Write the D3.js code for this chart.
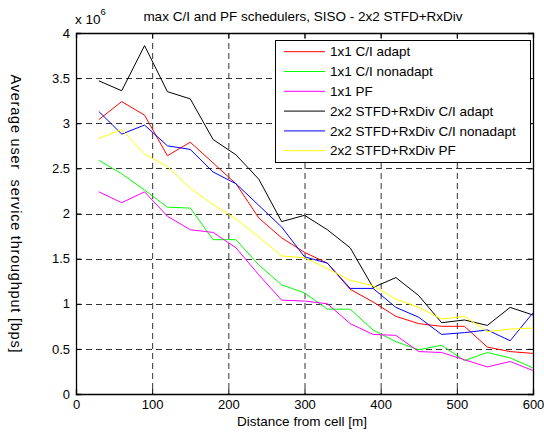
<!DOCTYPE html>
<html>
<head>
<meta charset="utf-8">
<script src="https://cdn.jsdelivr.net/npm/d3@7"></script>
<style>
  body { margin: 0; background: #fff; }
  text { font-family: "Liberation Sans", Arial, sans-serif; fill: #000; }
</style>
</head>
<body>
<div id="chart"></div>
<script>
// ---------- data (throughput in 1e6 bps) ----------
const distance = [30, 60, 90, 120, 150, 180, 210, 240, 270, 300, 330, 360, 390, 420, 450, 480, 510, 540, 570, 600];

const ci1x1Adapt    = [3.04, 3.24, 3.09, 2.64, 2.79, 2.56, 2.33, 1.95, 1.73, 1.57, 1.45, 1.16, 1.02, 0.86, 0.78, 0.75, 0.75, 0.52, 0.47, 0.45];
const ci1x1Nonadapt = [2.59, 2.44, 2.26, 2.07, 2.06, 1.71, 1.71, 1.43, 1.21, 1.12, 0.94, 0.94, 0.71, 0.58, 0.49, 0.54, 0.37, 0.46, 0.40, 0.29];
const pf1x1         = [2.24, 2.12, 2.24, 1.97, 1.82, 1.79, 1.62, 1.32, 1.04, 1.03, 1.00, 0.78, 0.66, 0.65, 0.47, 0.46, 0.38, 0.30, 0.36, 0.26];
const ci2x2Adapt    = [3.47, 3.36, 3.86, 3.35, 3.27, 2.82, 2.65, 2.38, 1.91, 1.98, 1.82, 1.62, 1.18, 1.29, 1.09, 0.79, 0.82, 0.76, 0.96, 0.875];
const ci2x2Nonadapt = [3.13, 2.88, 2.98, 2.75, 2.71, 2.46, 2.33, 2.09, 1.85, 1.52, 1.45, 1.17, 1.17, 0.96, 0.85, 0.66, 0.68, 0.71, 0.59, 0.90];
const pf2x2         = [2.83, 2.93, 2.66, 2.52, 2.28, 2.10, 1.94, 1.74, 1.53, 1.51, 1.39, 1.26, 1.20, 1.05, 0.96, 0.83, 0.86, 0.69, 0.72, 0.73];

const seriesNames = ["1x1 C/I adapt", "1x1 C/I nonadapt", "1x1 PF",
  "2x2 STFD+RxDiv C/I adapt", "2x2 STFD+RxDiv C/I nonadapt", "2x2 STFD+RxDiv PF"];
const seriesValues = [ci1x1Adapt, ci1x1Nonadapt, pf1x1, ci2x2Adapt, ci2x2Nonadapt, pf2x2];
const seriesColors = ["#ff0000", "#00ff00", "#ff00ff", "#000000", "#0000ff", "#ffff00"];

const xTicks = [0, 100, 200, 300, 400, 500, 600];
const yTicks = [0, 0.5, 1, 1.5, 2, 2.5, 3, 3.5, 4];

// ---------- layout ----------
const width = 544, height = 432;
const margin = { left: 76, right: 11, top: 33, bottom: 38 };
const plotW = width - margin.left - margin.right;
const plotH = height - margin.top - margin.bottom;
const labelFont = "13.5px";

const svg = d3.select("#chart").append("svg")
  .attr("width", width)
  .attr("height", height);

const x = d3.scaleLinear().domain([0, 600]).range([0, plotW]);
const y = d3.scaleLinear().domain([0, 4]).range([plotH, 0]);

const g = svg.append("g").attr("transform", `translate(${margin.left},${margin.top})`);

// grid (dashed)
g.append("g").selectAll("line")
  .data(xTicks.slice(1, -1))
  .enter().append("line")
  .attr("x1", d => x(d) + 0.5).attr("x2", d => x(d) + 0.5)
  .attr("y1", 0).attr("y2", plotH)
  .attr("stroke", "#333").attr("stroke-dasharray", "6,4");

g.append("g").selectAll("line")
  .data(yTicks.slice(1, -1))
  .enter().append("line")
  .attr("y1", d => Math.round(y(d)) + 0.5).attr("y2", d => Math.round(y(d)) + 0.5)
  .attr("x1", 0).attr("x2", plotW)
  .attr("stroke", "#333").attr("stroke-dasharray", "6,4");

// axes with inward ticks
const xAxis = d3.axisBottom(x).tickValues(xTicks).tickSize(-5).tickPadding(6);
const yAxis = d3.axisLeft(y).tickValues(yTicks).tickSize(-5).tickPadding(6)
  .tickFormat(d => String(d));

g.append("g").attr("transform", `translate(0,${plotH})`).call(xAxis);
g.append("g").call(yAxis);
g.append("g").call(d3.axisTop(x).tickValues(xTicks).tickSize(-5).tickFormat(""));
g.append("g").attr("transform", `translate(${plotW},0)`)
  .call(d3.axisRight(y).tickValues(yTicks).tickSize(-5).tickFormat(""));

g.selectAll(".domain").attr("stroke", "#000").attr("stroke-width", 1.3);
g.selectAll(".tick line").attr("stroke", "#000");
g.selectAll(".tick text")
  .style("font-family", '"Liberation Sans", Arial, sans-serif')
  .style("font-size", "13px")
  .attr("fill", "#000");

// series
const line = d3.line()
  .x((d, i) => x(distance[i]))
  .y(d => y(d));

g.append("g").selectAll("path")
  .data(seriesValues)
  .enter().append("path")
  .attr("d", d => line(d))
  .attr("fill", "none")
  .attr("stroke", (d, i) => seriesColors[i])
  .attr("stroke-width", 1);

// legend
const lg = svg.append("g").attr("transform", "translate(275.5,40.5)");
lg.append("rect")
  .attr("width", 255).attr("height", 122)
  .attr("fill", "#fff").attr("stroke", "#000");

seriesNames.forEach((name, i) => {
  const ly = 11.2 + i * 19.8;
  lg.append("line")
    .attr("x1", 8.5).attr("x2", 49.5)
    .attr("y1", ly).attr("y2", ly)
    .attr("stroke", seriesColors[i]);
  lg.append("text")
    .attr("x", 54.5).attr("y", ly + 4.7)
    .style("font-size", labelFont)
    .text(name);
});

// title and labels
svg.append("text")
  .attr("x", 303).attr("y", 21)
  .attr("text-anchor", "middle")
  .style("font-size", labelFont)
  .text("max C/I and PF schedulers, SISO - 2x2 STFD+RxDiv");

const exp = svg.append("text").attr("x", 75).attr("y", 24).style("font-size", labelFont);
exp.append("tspan").text("x 10");
exp.append("tspan").attr("dy", -9).style("font-size", "9.5px").text("6");

svg.append("text")
  .attr("x", 302).attr("y", 426)
  .attr("text-anchor", "middle")
  .style("font-size", labelFont)
  .text("Distance from cell [m]");

svg.append("text")
  .attr("transform", `translate(11,${margin.top + plotH / 2}) rotate(90)`)
  .attr("text-anchor", "middle")
  .attr("textLength", 278)
  .attr("lengthAdjust", "spacing")
  .style("font-size", "14.5px")
  .style("white-space", "pre")
  .text("Average user  service throughput [bps]");
</script>
</body>
</html>
